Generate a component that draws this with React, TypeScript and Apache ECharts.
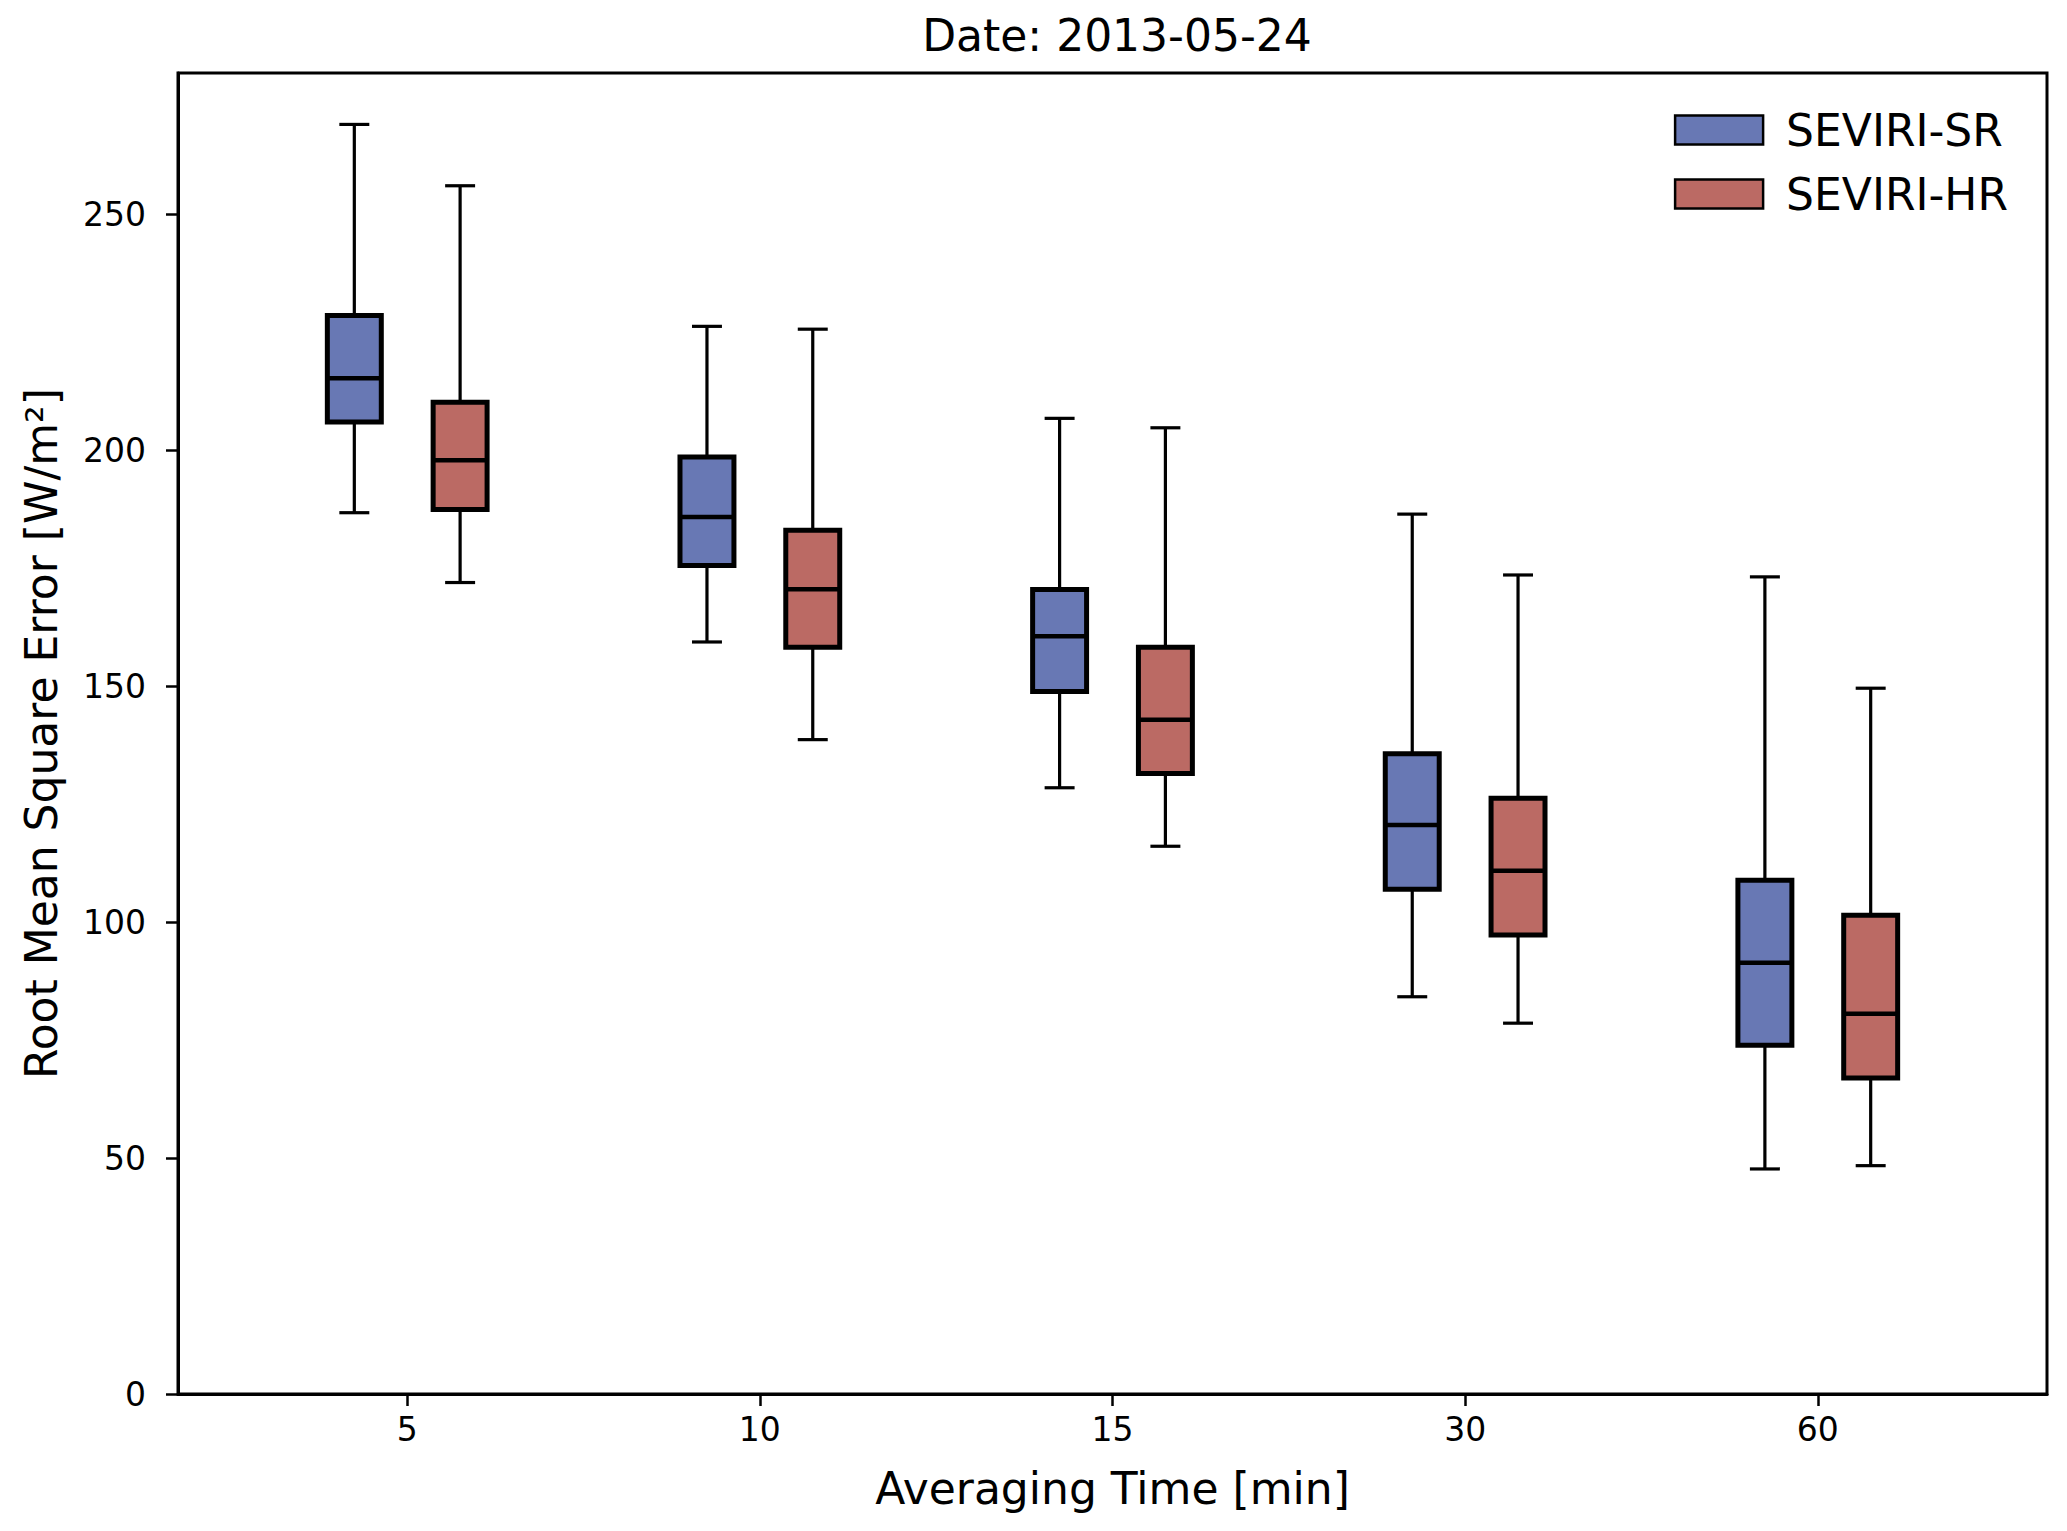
import React, { useEffect, useRef } from "react";
import * as echarts from "echarts";

const categories = ["5", "10", "15", "30", "60"];
const seriesNames = ["SEVIRI-SR", "SEVIRI-HR"];
// [min, q1, median, q3, max]
const srStats = [
  [186.8, 206.0, 215.3, 228.6, 269.1],
  [159.4, 175.6, 185.9, 198.6, 226.3],
  [128.5, 148.9, 160.6, 170.5, 206.8],
  [84.2, 107.0, 120.6, 135.7, 186.5],
  [47.7, 73.9, 91.4, 108.9, 173.2],
];
const hrStats = [
  [172.0, 187.5, 197.9, 210.2, 256.1],
  [138.7, 158.3, 170.6, 183.1, 225.7],
  [116.1, 131.5, 142.9, 158.3, 204.8],
  [78.6, 97.3, 110.9, 126.3, 173.6],
  [48.4, 67.0, 80.6, 101.5, 149.6],
];
const yTicks = [0, 50, 100, 150, 200, 250];

const FONT = "DejaVu Sans";
const BOX_W = 0.153;
const CAP_W = 0.085;
const OFFSET = 0.15;

function makeRender(offset: number) {
  return (params: any, api: any) => {
    const i = api.value(0);
    const vals = [1, 2, 3, 4, 5].map((k) => api.value(k));
    const x = api.coord([i + offset, 0])[0];
    const y = vals.map((v: number) => api.coord([i + offset, v])[1]);
    const half = api.size([BOX_W, 0])[0] / 2;
    const cap = api.size([CAP_W, 0])[0] / 2;
    const fill = api.visual("color");
    const ls = { stroke: "#000", lineWidth: 3.2 };
    return {
      type: "group",
      children: [
        { type: "line", shape: { x1: x, y1: y[4], x2: x, y2: y[3] }, style: ls },
        { type: "line", shape: { x1: x, y1: y[1], x2: x, y2: y[0] }, style: ls },
        { type: "line", shape: { x1: x - cap, y1: y[4], x2: x + cap, y2: y[4] }, style: ls },
        { type: "line", shape: { x1: x - cap, y1: y[0], x2: x + cap, y2: y[0] }, style: ls },
        {
          type: "rect",
          shape: { x: x - half, y: y[3], width: 2 * half, height: y[1] - y[3] },
          style: { fill, stroke: "#000", lineWidth: 5 },
        },
        {
          type: "line",
          shape: { x1: x - half, y1: y[2], x2: x + half, y2: y[2] },
          style: { stroke: "#000", lineWidth: 4.5 },
        },
      ],
    };
  };
}

export default function App() {
  const ref = useRef<HTMLDivElement>(null);
  useEffect(() => {
    if (!ref.current) return;
    const chart = echarts.init(ref.current, null, { renderer: "svg" });
    const colors = ["#6878b4", "#bb6a64"];
    const stats = [srStats, hrStats];
    const offsets = [-OFFSET, OFFSET];
    chart.setOption({
      animation: false,
      backgroundColor: "#fff",
      title: {
        text: "Date: 2013-05-24",
        left: 1112,
        textAlign: "center",
        top: 8,
        textStyle: { fontFamily: FONT, fontSize: 44, fontWeight: "normal", color: "#000" },
      },
      legend: {
        orient: "vertical",
        right: 59,
        top: 108,
        padding: 0,
        itemGap: 20,
        itemWidth: 88,
        itemHeight: 29,
        icon: "rect",
        data: seriesNames,
        itemStyle: { borderColor: "#000", borderWidth: 2.5 },
        textStyle: {
          fontFamily: FONT,
          fontSize: 44,
          color: "#000",
          lineHeight: 44,
          padding: [0, 0, 0, 18],
        },
      },
      grid: {
        left: 178,
        top: 73,
        width: 1869,
        height: 1321,
        show: true,
        borderColor: "#000",
        borderWidth: 3,
      },
      xAxis: {
        type: "value",
        min: -0.65,
        max: 4.65,
        name: "Averaging Time [min]",
        nameLocation: "middle",
        nameGap: 72,
        nameTextStyle: { fontFamily: FONT, fontSize: 44, color: "#000" },
        axisLine: { show: true, onZero: false, lineStyle: { color: "#000", width: 3 } },
        axisTick: {
          show: true,
          length: 12,
          lineStyle: { color: "#000", width: 2.5 },
          customValues: [0, 1, 2, 3, 4],
        },
        axisLabel: {
          customValues: [0, 1, 2, 3, 4],
          formatter: (v: number) => categories[Math.round(v)] ?? "",
          fontFamily: FONT,
          fontSize: 33,
          color: "#000",
          margin: 19,
        },
        splitLine: { show: false },
      },
      yAxis: {
        type: "value",
        min: 0,
        max: 280,
        name: "Root Mean Square Error [W/m²]",
        nameLocation: "middle",
        nameGap: 115,
        nameRotate: 90,
        nameTextStyle: { fontFamily: FONT, fontSize: 44, color: "#000" },
        axisLine: { show: true, onZero: false, lineStyle: { color: "#000", width: 3 } },
        axisTick: {
          show: true,
          length: 12,
          lineStyle: { color: "#000", width: 2.5 },
          customValues: yTicks,
        },
        axisLabel: {
          customValues: yTicks,
          fontFamily: FONT,
          fontSize: 33,
          color: "#000",
          margin: 32,
        },
        splitLine: { show: false },
      },
      series: stats.map((st, s) => ({
        type: "custom",
        name: seriesNames[s],
        renderItem: makeRender(offsets[s]),
        itemStyle: { color: colors[s], borderColor: "#000", borderWidth: 2.5 },
        encode: { x: 0, y: [1, 2, 3, 4, 5] },
        data: st.map((d, i) => [i, ...d]),
        clip: false,
      })),
    });
    return () => chart.dispose();
  }, []);
  return (
    <div
      ref={ref}
      style={{ position: "fixed", left: 0, top: 0, width: 2067, height: 1531 }}
    />
  );
}
